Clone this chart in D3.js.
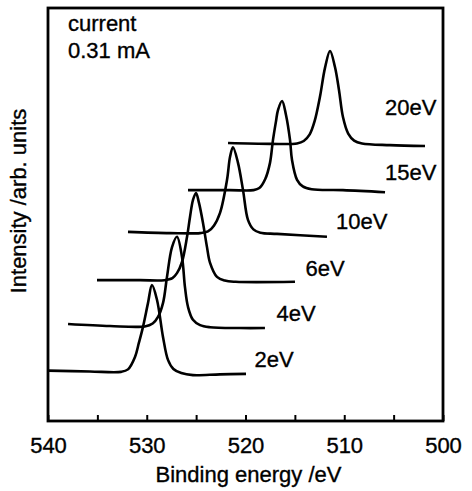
<!DOCTYPE html>
<html>
  <head>
    <meta charset="utf-8">
    <title>Binding energy spectra</title>
    <script src="https://d3js.org/d3.v7.min.js"></script>
    <style>
      body { margin: 0; background: #fff; }
      svg { display: block; font-family: "Liberation Sans", Arial, sans-serif; }
      .axis path, .axis line { stroke: #000; }
      .axis text { font-size: 22px; fill: #000; stroke: #000; stroke-width: 0.35; }
      .spectrum { fill: none; stroke: #000; stroke-width: 2.6; stroke-linejoin: round; }
      .label { font-size: 22px; fill: #000; stroke: #000; stroke-width: 0.35; }
    </style>
  </head>
  <body>
    <svg id="chart" width="472" height="491"></svg>
    <script>
      // data (binding energy in eV, intensity in arb. units)
      const seriesNames = ["2eV", "4eV", "6eV", "10eV", "15eV", "20eV"];
      const energy2eV = [540.0, 535.75, 532.6, 531.9, 531.19, 530.8, 530.38, 529.87, 529.47, 528.96, 528.35, 527.85, 527.3, 526.5, 525.32, 522.58, 519.95];
      const intensity2eV = [12.2, 12.0, 11.9, 12.5, 15.5, 18.9, 22.8, 28.6, 32.9, 29.3, 20.3, 14.8, 12.6, 11.6, 11.1, 11.3, 11.4];
      const energy4eV = [537.97, 533.72, 530.2, 529.4, 528.86, 528.35, 527.95, 527.44, 526.94, 526.43, 526.13, 525.82, 525.32, 524.6, 523.6, 520.56, 518.03];
      const intensity4eV = [23.5, 23.0, 22.9, 23.6, 25.2, 28.6, 34.9, 42.1, 44.6, 39.7, 32.4, 27.6, 24.5, 23.2, 22.7, 22.5, 22.5];
      const energy6eV = [535.04, 530.68, 528.2, 527.4, 526.94, 526.43, 525.92, 525.62, 525.32, 525.01, 524.71, 524.30, 523.90, 523.59, 522.89, 522.1, 521.0, 514.99];
      const intensity6eV = [34.1, 34.1, 34.1, 34.6, 35.8, 38.5, 44.6, 49.4, 53.5, 55.2, 52.8, 47.9, 42.1, 38.3, 34.9, 34.0, 33.7, 33.7];
      const energy10eV = [531.90, 527.65, 524.6, 523.8, 523.2, 522.58, 521.87, 521.57, 521.27, 520.76, 520.25, 519.75, 519.2, 518.5, 516.81, 511.75];
      const intensity10eV = [45.8, 45.5, 45.5, 45.9, 47.3, 50.4, 58.4, 63.9, 66.3, 62.5, 55.9, 48.7, 46.4, 45.6, 45.3, 44.6];
      const energy15eV = [525.82, 521.57, 519.2, 518.6, 518.0, 517.52, 517.22, 516.91, 516.71, 516.30, 515.90, 515.49, 515.29, 514.78, 514.2, 513.3, 510.13, 505.87];
      const intensity15eV = [55.9, 55.9, 55.9, 56.4, 58.6, 62.5, 68.0, 72.6, 75.3, 77.5, 74.1, 68.0, 63.2, 58.4, 56.8, 56.1, 55.9, 55.4];
      const energy20eV = [521.77, 517.52, 514.78, 514.1, 513.5, 513.0, 512.46, 511.95, 511.44, 510.94, 510.53, 510.13, 509.6, 509.0, 508.2, 505.37, 501.82];
      const intensity20eV = [67.3, 67.1, 67.2, 67.8, 69.4, 72.6, 78.5, 85.5, 89.6, 85.7, 80.1, 73.6, 69.6, 67.9, 67.2, 66.8, 66.6];
      // where each curve's label sits, in data units
      const labelEnergy = [519.09, 516.86, 513.92, 510.83, 505.87, 505.87];
      const labelIntensity = [13.1, 24.2, 35.1, 46.5, 58.4, 74.0];
      const xTicks = [540, 535, 530, 525, 520, 515, 510, 505, 500];

      const energies = [energy2eV, energy4eV, energy6eV, energy10eV, energy15eV, energy20eV];
      const intensities = [intensity2eV, intensity4eV, intensity6eV, intensity10eV, intensity15eV, intensity20eV];

      chart = d3.select("#chart");
      margin = { top: 8, right: 29, bottom: 70, left: 48 };
      width = 472;
      height = 491;

      x = d3.scaleLinear()
        .domain([540, 500])
        .range([margin.left, width - margin.right]);
      y = d3.scaleLinear()
        .domain([0, 100])
        .range([height - margin.bottom, margin.top]);

      chartData = seriesNames.map(function(name, k) {
        return {
          name: name,
          points: energies[k].map(function(e, i) { return { e: e, v: intensities[k][i] }; }),
          labelE: labelEnergy[k],
          labelV: labelIntensity[k]
        };
      });

      line = d3.line()
        .x(function(d) { return x(d.e); })
        .y(function(d) { return y(d.v); })
        .curve(d3.curveCatmullRom.alpha(0.5));

      // spectra
      chart.append("g")
        .selectAll(".spectrum")
          .data(chartData)
        .enter().append("path")
          .classed("spectrum", true)
          .attr("d", function(d) { return line(d.points); });

      chart.append("g")
        .selectAll(".label")
          .data(chartData)
        .enter().append("text")
          .classed("label", true)
          .attr("x", function(d) { return x(d.labelE); })
          .attr("y", function(d) { return y(d.labelV); })
          .text(function(d) { return d.name; });

      // axes
      xAxis = d3.axisBottom(x)
        .tickValues(xTicks)
        .tickSizeInner(-6)
        .tickSizeOuter(0)
        .tickPadding(16)
        .tickFormat(function(d) { return d % 10 === 0 ? d : ""; });
      xAxisGroup = chart.append("g")
        .attr("class", "axis")
        .attr("transform", "translate(0," + (height - margin.bottom) + ")")
        .call(xAxis);
      xAxisGroup.selectAll("line").attr("stroke-width", 2);
      xAxisGroup.select(".domain").remove();

      // frame
      chart.append("rect")
        .attr("x", margin.left)
        .attr("y", margin.top)
        .attr("width", width - margin.left - margin.right)
        .attr("height", height - margin.top - margin.bottom)
        .attr("fill", "none")
        .attr("stroke", "#000")
        .attr("stroke-width", 2.8);

      chart.append("text")
        .attr("class", "label")
        .attr("x", (margin.left + width - margin.right) / 2 + 3)
        .attr("y", 482)
        .attr("text-anchor", "middle")
        .text("Binding energy /eV");
      chart.append("text")
        .attr("class", "label")
        .attr("transform", "translate(26,201) rotate(-90)")
        .attr("text-anchor", "middle")
        .text("Intensity /arb. units");

      chart.append("text")
        .attr("class", "label")
        .attr("x", 68)
        .attr("y", 31)
        .text("current");
      chart.append("text")
        .attr("class", "label")
        .attr("x", 68)
        .attr("y", 58)
        .text("0.31 mA");
    </script>
  </body>
</html>
